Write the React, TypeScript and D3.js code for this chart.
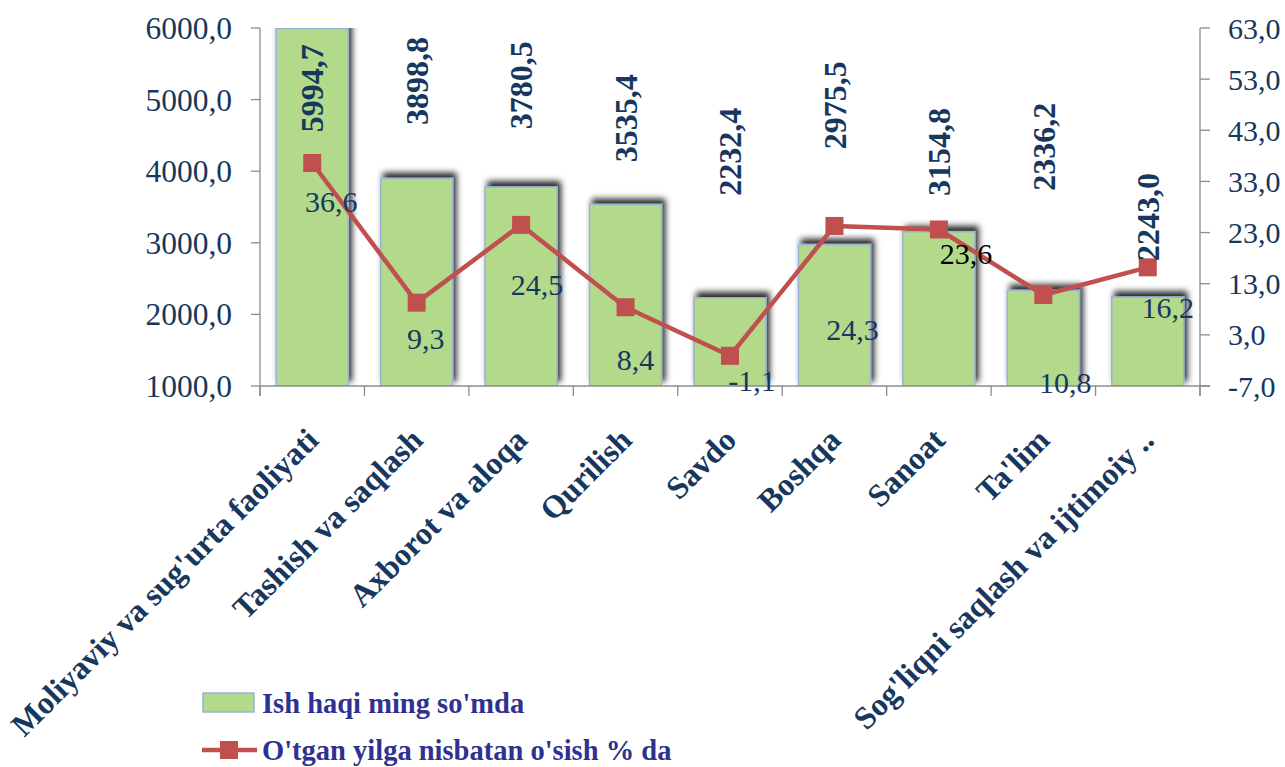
import React from "react";
import * as d3 from "d3";

const categories = [
  "Moliyaviy va sug'urta faoliyati",
  "Tashish va saqlash",
  "Axborot va aloqa",
  "Qurilish",
  "Savdo",
  "Boshqa",
  "Sanoat",
  "Ta'lim",
  "Sog'liqni saqlash va ijtimoiy ..",
];
const wages = [5994.7, 3898.8, 3780.5, 3535.4, 2232.4, 2975.5, 3154.8, 2336.2, 2243.0];
const growth = [36.6, 9.3, 24.5, 8.4, -1.1, 24.3, 23.6, 10.8, 16.2];
const leftTicks = [1000, 2000, 3000, 4000, 5000, 6000];
const rightTicks = [-7, 3, 13, 23, 33, 43, 53, 63];
const seriesNames = ["Ish haqi ming so'mda", "O'tgan yilga nisbatan o'sish % da"];

// layout of the manually placed data labels (in left-axis units / pixel offsets)
const barLabelAt = [5160, 5260, 5200, 4740, 4270, 4920, 4270, 4340, 3360];
const lineLabelOffset: [number, number][] = [
  [19, 38], [9, 36], [16, 60], [10, 52], [22, 25], [18, 104], [27, 24], [22, 88], [20, 40],
];
const lineLabelColor = ["#17375e", "#17375e", "#17375e", "#17375e", "#17375e", "#17375e", "#000000", "#17375e", "#17375e"];

const W = 1285, H = 767;
const L = 260, R = 1200, T = 28, B = 386;
const NAVY = "#17375e";
const FONT = "'Liberation Serif', 'Times New Roman', serif";

const fmt = (v: number) => d3.format(".1f")(v).replace(".", ",").replace("\u2212", "-");

export default function App() {
  const x = d3.scaleBand<string>().domain(categories).range([L, R]).paddingInner(0.31).paddingOuter(0.155);
  const xStep = x.step();
  const yL = d3.scaleLinear().domain([1000, 6000]).range([B, T]);
  const yR = d3.scaleLinear().domain([-7, 63]).range([B, T]);
  const cx = (i: number) => (x(categories[i]) as number) + x.bandwidth() / 2;
  const line = d3.line<number>().x((_, i) => cx(i)).y((d) => yR(d));
  const boundaries = d3.range(categories.length + 1).map((i) => L + i * xStep);
  const mk = 18;

  return (
    <svg width={W} height={H} style={{ position: "absolute", left: 0, top: 0, background: "#fff" }} fontFamily={FONT}>
      <defs>
        <filter id="shadow" x="-20%" y="-30%" width="140%" height="160%">
          <feDropShadow dx="3" dy="-5" stdDeviation="3" floodColor="#000" floodOpacity="0.85" />
        </filter>
        <clipPath id="plot">
          <rect x={L} y={T} width={R - L} height={B - T} />
        </clipPath>
      </defs>

      {/* bars */}
      <g clipPath="url(#plot)">
        {wages.map((v, i) => (
          <rect
            key={i}
            x={x(categories[i])}
            y={yL(v)}
            width={x.bandwidth()}
            height={B - yL(v)}
            fill="#b3d98a"
            stroke="#95b3d7"
            strokeWidth={1.5}
            filter="url(#shadow)"
          />
        ))}
      </g>

      {/* axes */}
      <g stroke="#8c8c8c" strokeWidth={1.3} fill="none">
        <line x1={L} y1={T} x2={L} y2={B + 10} />
        <line x1={R} y1={T} x2={R} y2={B + 10} />
        <line x1={L} y1={B} x2={R + 10} y2={B} />
        {leftTicks.map((t) => (
          <line key={"lt" + t} x1={L - 9} x2={L} y1={yL(t)} y2={yL(t)} />
        ))}
        {rightTicks.map((t) => (
          <line key={"rt" + t} x1={R} x2={R + 10} y1={yR(t)} y2={yR(t)} />
        ))}
        {boundaries.map((bx, i) => (
          <line key={"bt" + i} x1={bx} x2={bx} y1={B} y2={B + 10} />
        ))}
      </g>
      {leftTicks.map((t) => (
        <text key={"ltl" + t} x={232} y={yL(t)} dy="0.35em" textAnchor="end" fontSize={31.5} fill={NAVY}>
          {fmt(t)}
        </text>
      ))}
      {rightTicks.map((t) => (
        <text key={"rtl" + t} x={1228} y={yR(t)} dy="0.35em" textAnchor="start" fontSize={30} fill={NAVY}>
          {fmt(t)}
        </text>
      ))}

      {/* category labels */}
      {categories.map((c, i) => {
        const ax = cx(i) + 8;
        const ay = 442;
        return (
          <text
            key={"cat" + i}
            x={ax}
            y={ay}
            transform={`rotate(-45 ${ax} ${ay})`}
            textAnchor="end"
            fontSize={32}
            fontWeight="bold"
            fill={NAVY}
          >
            {c}
          </text>
        );
      })}

      {/* line series */}
      <path d={line(growth) || ""} fill="none" stroke="#c0504d" strokeWidth={4.5} strokeLinejoin="round" />
      {growth.map((v, i) => (
        <rect key={"m" + i} x={cx(i) - mk / 2} y={yR(v) - mk / 2} width={mk} height={mk} fill="#c0504d" />
      ))}

      {/* bar value labels */}
      {wages.map((v, i) => {
        const lx = cx(i);
        const ly = yL(barLabelAt[i]);
        return (
          <text
            key={"bl" + i}
            x={lx}
            y={ly}
            dy="0.35em"
            transform={`rotate(-90 ${lx} ${ly})`}
            textAnchor="middle"
            fontSize={32}
            fontWeight="bold"
            fill={NAVY}
          >
            {fmt(v)}
          </text>
        );
      })}

      {/* line value labels */}
      {growth.map((v, i) => (
        <text
          key={"ll" + i}
          x={cx(i) + lineLabelOffset[i][0]}
          y={yR(v) + lineLabelOffset[i][1]}
          dy="0.35em"
          textAnchor="middle"
          fontSize={30}
          fill={lineLabelColor[i]}
        >
          {fmt(v)}
        </text>
      ))}

      {/* legend */}
      <g>
        <rect x={203} y={693} width={51} height={19} fill="#b3d98a" stroke="#95b3d7" strokeWidth={1.5} />
        <text x={262} y={713} fontSize={28.5} fontWeight="bold" fill="#2e3192">
          {seriesNames[0]}
        </text>
        <line x1={202} x2={257} y1={750} y2={750} stroke="#c0504d" strokeWidth={4.5} />
        <rect x={220} y={741} width={18} height={18} fill="#c0504d" />
        <text x={262} y={760} fontSize={28.5} fontWeight="bold" fill="#2e3192">
          {seriesNames[1]}
        </text>
      </g>
    </svg>
  );
}
